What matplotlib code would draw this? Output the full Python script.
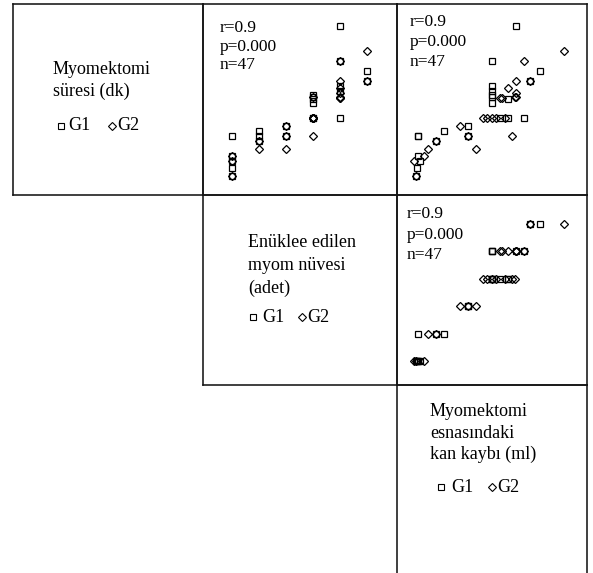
import matplotlib
matplotlib.use('Agg')
from matplotlib import pyplot as plt
import matplotlib.lines as mlines
import numpy as np

# patient level values, G1 (square) and G2 (diamond)
# myom count (adet), operation time (dk), blood loss (ml)
g1_count = [6, 6, 5, 5, 5, 5, 5, 4, 4, 4, 4, 4, 4, 3, 3, 2, 2, 2, 1, 1, 1, 1, 1]
g1_time = [135, 125, 180, 145, 120, 115, 88, 109, 103, 88, 107, 111, 88, 80, 70, 75, 70, 65, 70, 50, 38, 30, 45]
g1_loss = [750, 700, 630, 510, 510, 510, 670, 510, 510, 550, 590, 510, 590, 390, 390, 270, 140, 230, 140, 140, 135, 130, 150]

g2_count = [6, 6, 5, 5, 5, 5, 5, 5, 5, 4, 4, 4, 4, 4, 4, 4, 3, 3, 3, 2, 2, 1, 1, 1]
g2_time = [155, 125, 145, 125, 118, 108, 109, 113, 108, 88, 88, 88, 88, 70, 109, 88, 80, 70, 57, 65, 57, 50, 45, 30]
g2_loss = [870, 700, 670, 630, 590, 550, 630, 630, 560, 465, 485, 510, 575, 610, 625, 530, 350, 390, 430, 230, 190, 170, 120, 130]

stats_text = ['r=0.9', 'p=0.000', 'n=47']
label_time = ['Myomektomi', 'süresi (dk)']
label_count = ['Enüklee edilen', 'myom nüvesi', '(adet)']
label_loss = ['Myomektomi', 'esnasındaki', 'kan kaybı (ml)']

W, H = 593, 573
plt.rcParams['font.family'] = ['Liberation Serif', 'DejaVu Serif']
fig = plt.figure(figsize=(W / 100, H / 100), dpi=100)


def px(x, y):
    return x / W, 1 - y / H


def add_panel(x0, y0, x1, y1):
    ax = fig.add_axes([x0 / W, 1 - y1 / H, (x1 - x0) / W, (y1 - y0) / H])
    ax.set_xticks([])
    ax.set_yticks([])
    ax.patch.set_alpha(0)
    for s in ax.spines.values():
        s.set_linewidth(1.15)
        s.set_color('#151515')
    return ax


def scatter(ax, x1, y1, x2, y2):
    ax.plot(x1, y1, 's', mfc='none', mec='black', ms=5, mew=0.9, clip_on=False)
    ax.plot(x2, y2, 'D', mfc='none', mec='black', ms=4.5, mew=0.9, clip_on=False)


def stats(ax, x, ys):
    for t, y in zip(stats_text, ys):
        ax.text(x, y, t, transform=ax.transAxes, fontsize=12.5, va='center', ha='left')


def label(lines, x, ys, leg_y, sq_x, g1_x, dm_x, g2_x):
    for t, y in zip(lines, ys):
        fig.text(*px(x, y), t, fontsize=13, va='center', ha='left')
    fig.add_artist(mlines.Line2D([sq_x / W], [1 - leg_y / H], marker='s', mfc='none', mec='black',
                                 ms=3.8, mew=0.8, transform=fig.transFigure))
    fig.add_artist(mlines.Line2D([dm_x / W], [1 - leg_y / H], marker='D', mfc='none', mec='black',
                                 ms=3.6, mew=0.8, transform=fig.transFigure))
    fig.text(*px(g1_x, leg_y), 'G1', fontsize=13, va='center', ha='left')
    fig.text(*px(g2_x, leg_y), 'G2', fontsize=13, va='center', ha='left')


time_lim = (11, 202)
loss_lim = (35, 985)
count_xlim = (-0.07, 7.11)
count_ylim = (0.12, 7.06)

# row 1
ax00 = add_panel(13, 4, 203, 195)
label(label_time, 53, [70, 91], 126, 61, 68, 112, 117)

ax01 = add_panel(203, 4, 397, 195)
scatter(ax01, g1_count, g1_time, g2_count, g2_time)
ax01.set_xlim(count_xlim)
ax01.set_ylim(time_lim)
stats(ax01, 0.088, [0.874, 0.775, 0.68])

ax02 = add_panel(397, 4, 587, 195)
scatter(ax02, g1_loss, g1_time, g2_loss, g2_time)
ax02.set_xlim(loss_lim)
ax02.set_ylim(time_lim)
stats(ax02, 0.068, [0.905, 0.80, 0.695])

# row 2
ax11 = add_panel(203, 195, 397, 385)
label(label_count, 248, [243, 266, 288], 317, 253, 262, 302, 307)

ax12 = add_panel(397, 195, 587, 385)
scatter(ax12, g1_loss, g1_count, g2_loss, g2_count)
ax12.set_xlim(loss_lim)
ax12.set_ylim(count_ylim)
stats(ax12, 0.05, [0.9, 0.79, 0.685])

# row 3
ax22 = add_panel(397, 385, 587, 585)
label(label_loss, 430, [412, 433, 454], 487, 441, 451, 492, 497)

plt.savefig('out.png', dpi=100)
